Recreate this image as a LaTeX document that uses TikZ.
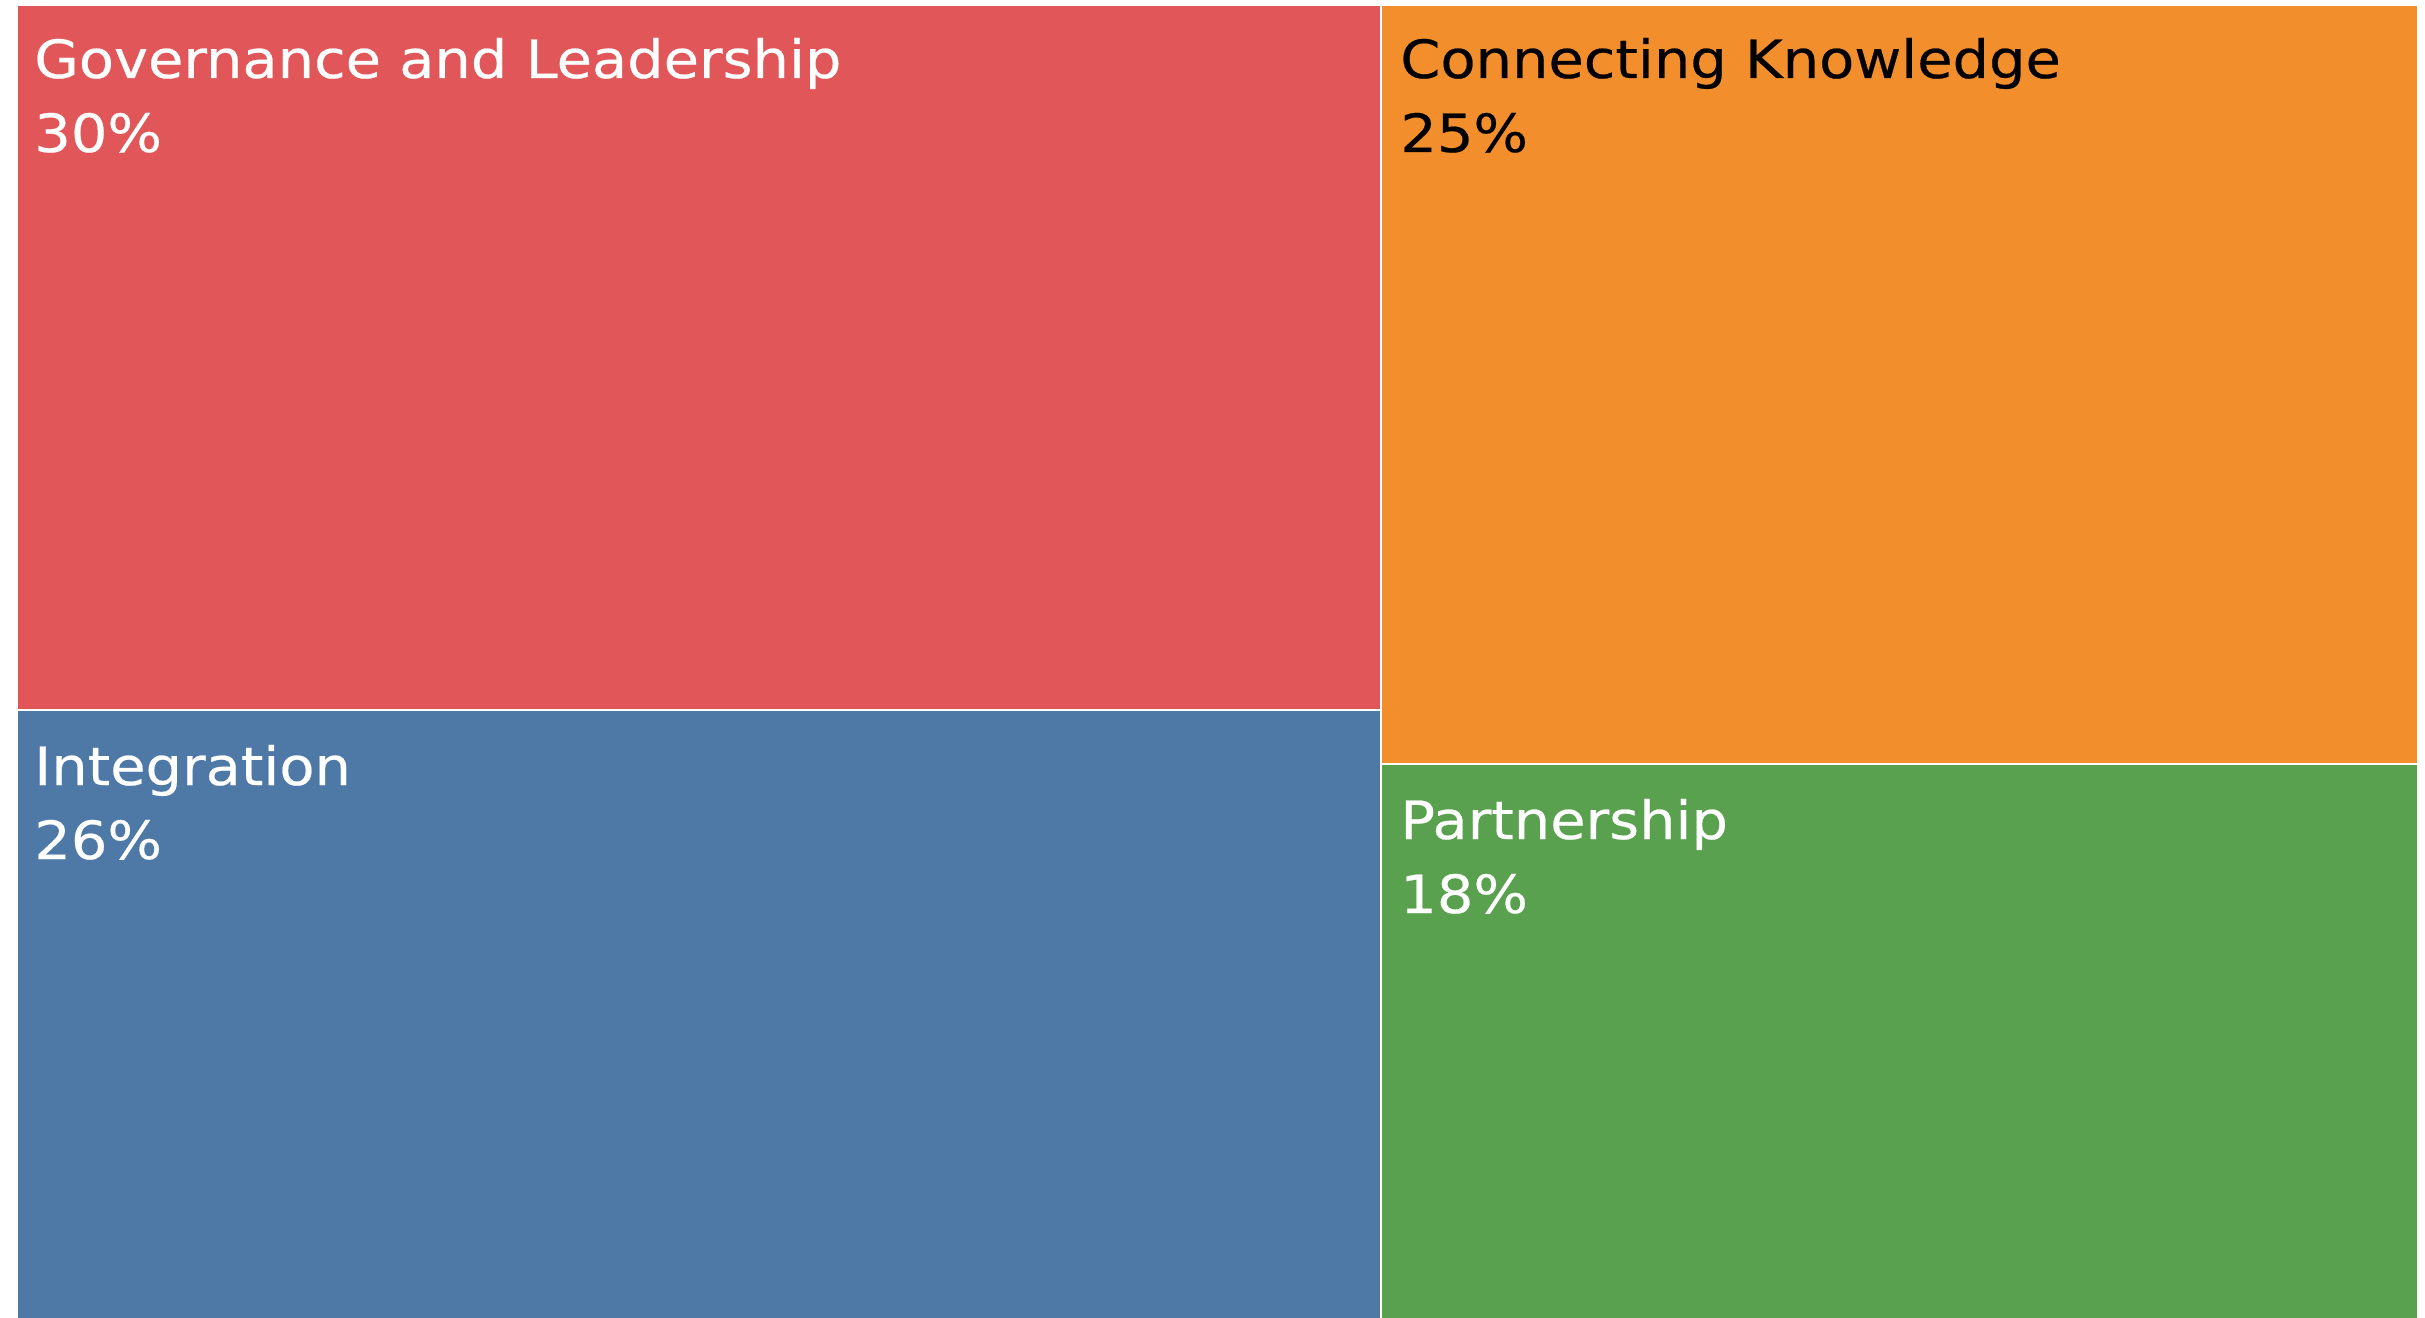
\documentclass[tikz,border=0pt]{standalone}
\usepackage{fontspec}
\setmainfont[FakeStretch=1.09,FakeBold=0.4]{DejaVu Sans}
\definecolor{govred}{HTML}{E15759}
\definecolor{knoworange}{HTML}{F28E2B}
\definecolor{integblue}{HTML}{4E79A7}
\definecolor{partgreen}{HTML}{59A14F}
\newcommand{\tilefont}{\fontsize{30}{36}\selectfont}
\begin{document}
\begin{tikzpicture}[x=0.02cm,y=-0.02cm,
  tile/.style={draw=white,line width=0.04cm},
  lbl/.style={anchor=base west,inner sep=0pt,font=\tilefont,text=white}]
\useasboundingbox (0,0) rectangle (2425,1318);
\fill [white] (0,0) rectangle (2425,1318);
% tiles
\filldraw[tile,fill=govred]     (17,5)    rectangle (1381,710);
\filldraw[tile,fill=integblue]  (17,710)  rectangle (1381,1330);
\filldraw[tile,fill=knoworange] (1381,5)  rectangle (2418,764);
\filldraw[tile,fill=partgreen]  (1381,764) rectangle (2418,1330);
% labels
\node[lbl] (govname)  at (34,78)    {Governance and Leadership};
\node[lbl] (govpct)   at (34,152)   {30\%};
\node[lbl,text=black] (knowname) at (1400,78)  {Connecting Knowledge};
\node[lbl,text=black] (knowpct)  at (1400,152) {25\%};
\node[lbl] (integname) at (34,785)  {Integration};
\node[lbl] (integpct)  at (34,859)  {26\%};
\node[lbl] (partname) at (1400,839) {Partnership};
\node[lbl] (partpct)  at (1400,913) {18\%};
\end{tikzpicture}
\end{document}
